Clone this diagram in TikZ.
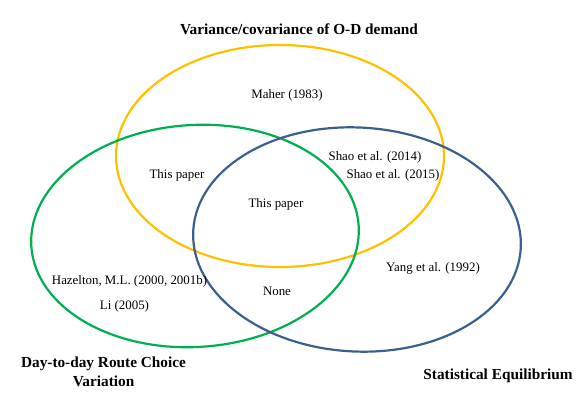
\documentclass[tikz,border=0pt]{standalone}
\usepackage{fontspec}
\setmainfont{Liberation Serif}
\definecolor{vyellow}{HTML}{FFC000}
\definecolor{vgreen}{HTML}{00B050}
\definecolor{vblue}{HTML}{3A5F91}
\begin{document}
\begin{tikzpicture}[x=1pt,y=-1pt,
  ring/.style={line width=2.2pt},
  lbl/.style={inner sep=0pt,font=\fontsize{12.9}{15}\selectfont},
  head/.style={inner sep=0pt,align=center,font=\fontsize{15.3}{19.5}\selectfont\bfseries}]
\useasboundingbox (0,0) rectangle (582,396);
\coordinate (cy) at (280,156);
\coordinate (cg) at (195,236);
\coordinate (cb) at (357,239.5);
\draw[ring,vyellow] (cy) ellipse [x radius=164pt, y radius=111pt];
\draw[ring,vgreen,rotate around={3.5:(cg)}] (cg) ellipse [x radius=164pt, y radius=111pt];
\draw[ring,vblue,rotate around={-3:(cb)}] (cb) ellipse [x radius=164pt, y radius=112pt];
\node[head] (t1) at (299,29) {Variance/covariance of O-D demand};
\node[head] (t2) at (103.5,372) {Day-to-day Route Choice\\Variation};
\node[head] (t3) at (498,376) {Statistical Equilibrium};
\node[lbl] (maher) at (287,95) {Maher (1983)};
\node[lbl] (tp1) at (177,175) {This paper};
\node[lbl] (shao1) at (375,157) {Shao et al. (2014)};
\node[lbl] (shao2) at (393,175) {Shao et al. (2015)};
\node[lbl] (tp2) at (276,204) {This paper};
\node[lbl] (haz) at (129.5,281) {Hazelton, M.L. (2000, 2001b)};
\node[lbl] (li) at (124.5,306) {Li (2005)};
\node[lbl] (none) at (277,291) {None};
\node[lbl] (yang) at (433,268) {Yang et al. (1992)};
\end{tikzpicture}
\end{document}
